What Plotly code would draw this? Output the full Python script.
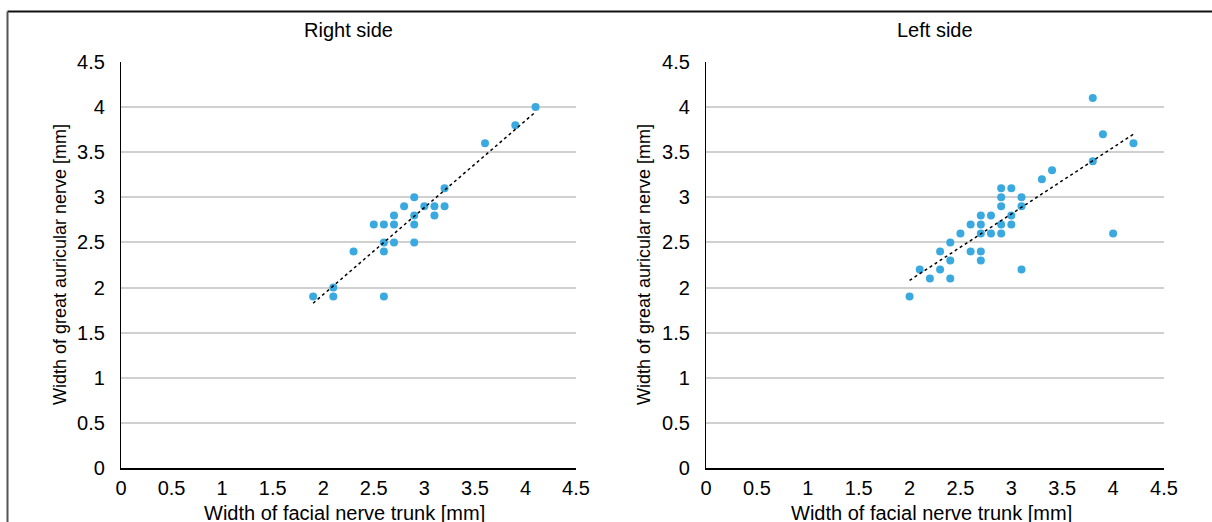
import numpy as np
import plotly.graph_objects as go

# ---- data ----
right_x = [1.9, 2.1, 2.1, 2.6, 2.3, 2.6, 2.6, 2.7, 2.9, 2.5, 2.6, 2.7, 2.9,
           2.7, 2.9, 2.8, 3.0, 3.1, 3.2, 3.1, 2.9, 3.2, 3.6, 3.9, 4.1]
right_y = [1.9, 1.9, 2.0, 1.9, 2.4, 2.4, 2.5, 2.5, 2.5, 2.7, 2.7, 2.7, 2.7,
           2.8, 2.8, 2.9, 2.9, 2.9, 2.9, 2.8, 3.0, 3.1, 3.6, 3.8, 4.0]

left_x = [2.0, 2.1, 2.2, 2.3, 2.4, 2.3, 2.4, 2.4, 2.5, 2.6, 2.6, 2.7, 2.7,
          2.7, 2.7, 2.7, 2.8, 2.8, 2.9, 2.9, 2.9, 2.9, 2.9, 3.0, 3.0, 3.0,
          3.1, 3.1, 3.1, 3.3, 3.4, 3.8, 3.9, 4.2, 3.8, 4.0]
left_y = [1.9, 2.2, 2.1, 2.2, 2.1, 2.4, 2.3, 2.5, 2.6, 2.7, 2.4, 2.4, 2.3,
          2.6, 2.7, 2.8, 2.8, 2.6, 2.6, 2.7, 2.9, 3.0, 3.1, 3.1, 2.8, 2.7,
          3.0, 2.9, 2.2, 3.2, 3.3, 3.4, 3.7, 3.6, 4.1, 2.6]

panel_titles = ["Right side", "Left side"]
x_title = "Width of facial nerve trunk [mm]"
y_title = "Width of great auricular nerve [mm]"
tick_vals = [0, 0.5, 1, 1.5, 2, 2.5, 3, 3.5, 4, 4.5]
tick_text = ["0", "0.5", "1", "1.5", "2", "2.5", "3", "3.5", "4", "4.5"]

# ---- layout geometry ----
W, H = 1212, 522
FONT = "Liberation Sans, Arial, sans-serif"
MARKER = "#3aa9df"

def px_x(p):
    return p / W

def px_y(p):
    return (H - p) / H

x_domains = [[px_x(121), px_x(576)], [px_x(706), px_x(1164)]]
y_domain = [px_y(468), px_y(62)]

fig = go.Figure()

panels = [(right_x, right_y), (left_x, left_y)]
for i, (xs, ys) in enumerate(panels):
    xa = "x" if i == 0 else "x2"
    ya = "y" if i == 0 else "y2"
    fig.add_trace(go.Scatter(
        x=xs, y=ys, mode="markers", xaxis=xa, yaxis=ya,
        marker=dict(color=MARKER, size=8, line=dict(width=0)),
        showlegend=False, hoverinfo="x+y"))
    # linear trendline (least squares), drawn from min x to max x
    k, b = np.polyfit(xs, ys, 1)
    tx = [min(xs), max(xs)]
    ty = [k * v + b for v in tx]
    fig.add_trace(go.Scatter(
        x=tx, y=ty, mode="lines", xaxis=xa, yaxis=ya,
        line=dict(color="black", width=1.5, dash="dot"),
        showlegend=False, hoverinfo="skip"))

axis_common = dict(
    range=[0, 4.5], tickmode="array", tickvals=tick_vals, ticktext=tick_text,
    tickfont=dict(family=FONT, size=20, color="black"),
    zeroline=False, ticks="", fixedrange=True, automargin=False,
)

for i in range(2):
    sfx = "" if i == 0 else "2"
    fig.update_layout(**{
        "xaxis" + sfx: dict(
            axis_common, domain=x_domains[i], anchor="y" + sfx,
            showgrid=False, showline=True, linecolor="black", linewidth=2,
            ticklabelstandoff=1),
        "yaxis" + sfx: dict(
            axis_common, domain=y_domain, anchor="x" + sfx,
            showgrid=True, gridcolor="#d0d0d0", gridwidth=1.6,
            showline=True, linecolor="black", linewidth=1.3,
            ticklabelstandoff=11),
    })

annotations = []
centers = [(121 + 576) / 2, (706 + 1164) / 2]
for i in range(2):
    annotations.append(dict(
        text=panel_titles[i], x=px_x(centers[i]), y=px_y(30),
        xref="paper", yref="paper", xanchor="center", yanchor="middle",
        showarrow=False, font=dict(family=FONT, size=20, color="black")))
    annotations.append(dict(
        text=x_title, x=px_x(centers[i] - 4), y=px_y(513),
        xref="paper", yref="paper", xanchor="center", yanchor="middle",
        showarrow=False, font=dict(family=FONT, size=20, color="black")))
    annotations.append(dict(
        text=y_title, x=px_x([60, 644][i]), y=px_y(265), textangle=-90,
        xref="paper", yref="paper", xanchor="center", yanchor="middle",
        showarrow=False, font=dict(family=FONT, size=18, color="black")))

shapes = [
    dict(type="line", xref="paper", yref="paper",
         x0=px_x(7.5), x1=1.05, y0=px_y(11.5), y1=px_y(11.5),
         line=dict(color="#111111", width=2)),
    dict(type="line", xref="paper", yref="paper",
         x0=px_x(7.5), x1=px_x(7.5), y0=-0.1, y1=px_y(11.5),
         line=dict(color="#555555", width=2)),
]

fig.update_layout(
    width=W, height=H,
    margin=dict(l=0, r=0, t=0, b=0, autoexpand=False),
    paper_bgcolor="white", plot_bgcolor="white",
    annotations=annotations, shapes=shapes,
    font=dict(family=FONT, color="black"),
)

fig.write_html(
    "out.html",
    config={"displayModeBar": False},
    post_script="document.body.style.margin='0';"
                "document.body.style.overflow='hidden';",
)
